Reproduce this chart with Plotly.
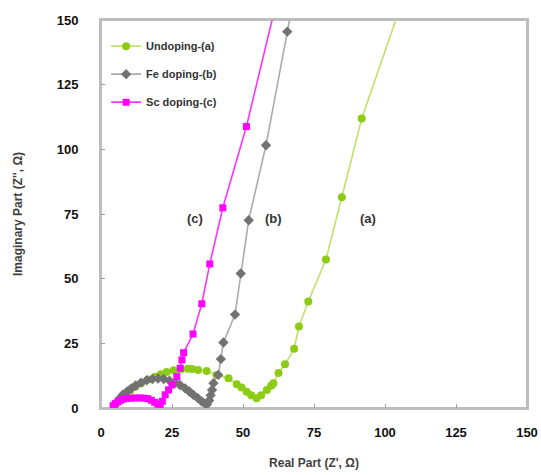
import plotly.graph_objects as go

# Undoping-(a)
a_x = [4.7, 6.2, 8.2, 10.2, 12.1, 14.1, 16.6, 19.1, 21.1, 23.1, 25.6, 28.1, 30.6, 32.1, 34.2, 37.2,
       40.7, 44.9, 47.8, 49.5, 51.3, 52.9, 54.8, 56.4, 58.4, 59.9, 60.7, 62.5, 64.8, 68.0, 69.7, 73.0,
       79.2, 84.8, 91.8, 106.0]
a_y = [0.9, 2.9, 4.9, 6.7, 8.2, 9.6, 11.0, 12.1, 13.0, 13.9, 14.6, 15.0, 15.2, 15.1, 14.7, 14.3,
       12.8, 11.5, 9.2, 7.9, 6.3, 4.9, 3.8, 4.9, 7.0, 8.6, 9.6, 13.5, 16.9, 22.9, 31.5, 41.2,
       57.4, 81.5, 111.9, 157.0]

# Fe doping-(b)
b_x = [4.7, 5.7, 6.7, 7.7, 9.2, 10.7, 12.2, 14.1, 16.1, 18.1, 20.1, 22.1, 24.1, 26.1, 27.8, 29.6,
       31.1, 32.5, 34.1, 35.5, 36.6, 37.3, 38.1, 38.6, 39.1, 39.6, 41.3, 42.2, 43.1, 47.2, 49.2, 52.0,
       58.1, 65.6, 67.6]
b_y = [0.9, 2.4, 3.9, 5.1, 6.4, 7.6, 8.7, 9.8, 10.7, 11.2, 11.4, 11.2, 10.6, 9.8, 8.9, 7.6,
       6.4, 5.1, 3.8, 2.5, 1.7, 1.4, 2.9, 4.9, 7.0, 9.6, 12.8, 18.9, 25.3, 36.1, 52.0, 72.6,
       101.6, 145.5, 157.0]

# Sc doping-(c)
c_x = [4.3, 5.0, 6.0, 6.9, 7.8, 9.2, 10.7, 12.2, 13.7, 15.2, 16.5, 17.7, 18.9, 20.0, 20.8, 21.6,
       22.6, 23.8, 25.0, 26.7, 27.9, 28.5, 29.1, 32.4, 35.5, 38.3, 42.9, 51.2, 62.0]
c_y = [0.9, 1.7, 2.4, 3.0, 3.4, 3.7, 3.8, 3.9, 3.9, 3.8, 3.6, 3.0, 2.2, 1.5, 1.2, 2.6,
       5.1, 7.0, 8.9, 12.1, 15.4, 18.6, 21.4, 28.6, 40.3, 55.7, 77.4, 108.8, 158.0]

tick_vals = [0, 25, 50, 75, 100, 125, 150]
labels = [("(c)", 33.1, 73.4), ("(b)", 60.6, 73.4), ("(a)", 94.0, 73.4)]

FONT = "Liberation Sans, Arial, sans-serif"

fig = go.Figure()
fig.add_trace(go.Scatter(
    x=a_x, y=a_y, mode="lines+markers", name="<b>Undoping-(a)</b>", legendgroup="a",
    line=dict(color="#bde36a", width=1.6),
    marker=dict(symbol="circle", size=8, color="#8ccc14")))
fig.add_trace(go.Scatter(
    x=b_x, y=b_y, mode="lines+markers", name="<b>Fe doping-(b)</b>", legendgroup="b",
    line=dict(color="#ababab", width=1.6),
    marker=dict(symbol="diamond", size=8, color="#727272")))
fig.add_trace(go.Scatter(
    x=c_x, y=c_y, mode="lines+markers", name="<b>Sc doping-(c)</b>", legendgroup="c",
    line=dict(color="#ff33ff", width=1.6),
    marker=dict(symbol="square", size=7, color="#ff00ff")))

for txt, lx, ly in labels:
    fig.add_annotation(x=lx, y=ly, text="<b>" + txt + "</b>", showarrow=False,
                       font=dict(family=FONT, size=13, color="#333333"))

# plot frame
fig.add_shape(type="rect", xref="paper", yref="paper", x0=0, x1=1, y0=0, y1=1,
              line=dict(color="#bdbdbd", width=2), layer="below")

axis_common = dict(
    range=[0, 150], tickvals=tick_vals, showgrid=False, zeroline=False, automargin=False,
    showline=True, linecolor="#bdbdbd", linewidth=2, mirror=True,
    ticks="inside", ticklen=4, tickcolor="#a0a0a0", tickwidth=1,
    tickfont=dict(family=FONT, size=13, color="#111111", weight="bold"),
)

fig.update_layout(
    width=541, height=475,
    margin=dict(l=101, r=14, t=20, b=67),
    paper_bgcolor="white", plot_bgcolor="white",
    font=dict(family=FONT),
    showlegend=True,
    legend=dict(x=0.012, y=0.97, xanchor="left", yanchor="top",
                bgcolor="rgba(0,0,0,0)", tracegroupgap=9,
                font=dict(family=FONT, size=11, color="#333333")),
    xaxis=dict(**axis_common, ticklabelstandoff=11,
               title=dict(text="<b>Real Part (Z', Ω)</b>", standoff=20,
                          font=dict(family=FONT, size=12, color="#404040"))),
    yaxis=dict(**axis_common, ticklabelstandoff=18,
               title=dict(text="<b>Imaginary Part (Z'', Ω)</b>", standoff=31,
                          font=dict(family=FONT, size=12, color="#404040"))),
)

fig.write_html("out.html")
